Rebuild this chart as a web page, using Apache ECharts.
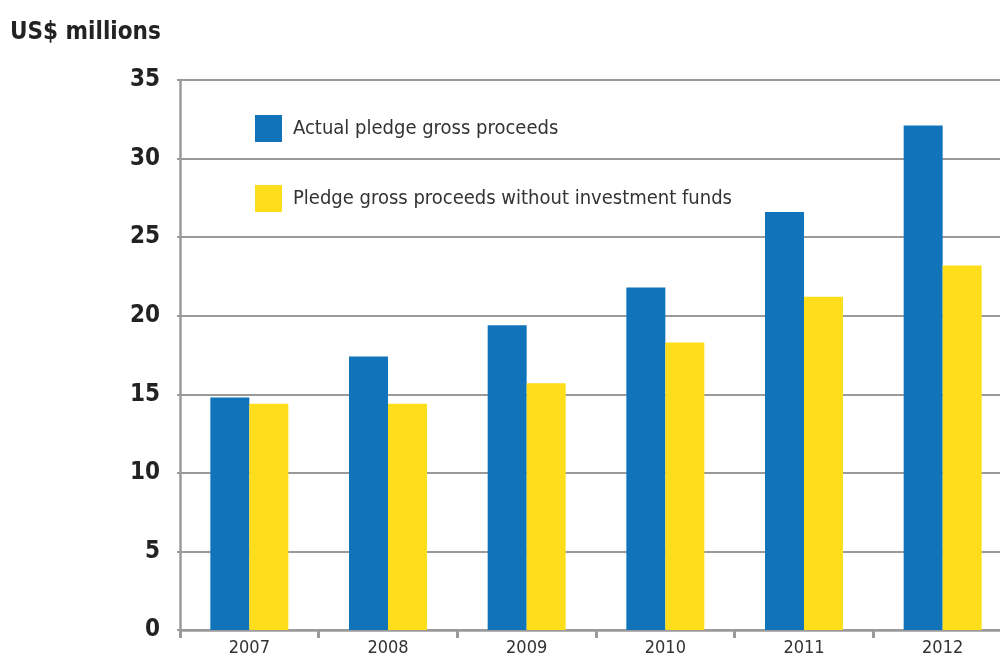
<!DOCTYPE html>
<html>
<head>
<meta charset="utf-8">
<script src="https://cdn.jsdelivr.net/npm/echarts@6/dist/echarts.min.js"></script>
<style>
  html, body { margin: 0; padding: 0; background: #fff; overflow: hidden; }
  /* plot runs slightly past the right edge of the page */
  #chart { width: 1012px; height: 657px; }
</style>
</head>
<body>
<div id="chart"></div>
<script>
// Pledge gross proceeds, US$ millions
const years = ['2007', '2008', '2009', '2010', '2011', '2012'];
const actualProceeds = [14.8, 17.4, 19.4, 21.8, 26.6, 32.1];
const withoutFunds = [14.4, 14.4, 15.7, 18.3, 21.2, 23.2];
const yTicks = { min: 0, max: 35, interval: 5 };

const FONT = "'Liberation Sans Narrow', 'Arial Narrow', 'DejaVu Sans Condensed', sans-serif";
const GRID_GRAY = '#9a9a9a';

const chart = echarts.init(document.getElementById('chart'));
chart.setOption({
  animation: false,
  backgroundColor: '#fff',
  title: {
    text: 'US$ millions',
    left: 5,
    top: 16,
    textStyle: { fontFamily: FONT, fontSize: 24, fontWeight: 'bold', color: '#222' }
  },
  legend: {
    orient: 'vertical',
    left: 250,
    top: 110,
    itemWidth: 27,
    itemHeight: 27,
    itemGap: 43,
    icon: 'rect',
    textStyle: { fontFamily: FONT, fontSize: 20, color: '#333', padding: [0, 0, 0, 6] },
    data: ['Actual pledge gross proceeds', 'Pledge gross proceeds without investment funds']
  },
  grid: { left: 180, top: 80, bottom: 26, right: 0 },
  xAxis: {
    type: 'category',
    data: years,
    boundaryGap: true,
    axisLine: { lineStyle: { color: GRID_GRAY, width: 2.5 } },
    axisTick: { show: true, length: 8, lineStyle: { color: GRID_GRAY, width: 3 } },
    axisLabel: { margin: 9, fontFamily: FONT, fontSize: 18, color: '#333' }
  },
  yAxis: {
    type: 'value',
    min: yTicks.min,
    max: yTicks.max,
    interval: yTicks.interval,
    axisLine: { show: true, lineStyle: { color: GRID_GRAY, width: 2.5 } },
    axisTick: { show: true, length: 3, lineStyle: { color: GRID_GRAY, width: 2 } },
    splitLine: { lineStyle: { color: GRID_GRAY, width: 2 } },
    axisLabel: { margin: 20, fontFamily: FONT, fontSize: 24, fontWeight: 'bold', color: '#222' }
  },
  series: [
    {
      name: 'Actual pledge gross proceeds',
      type: 'bar',
      data: actualProceeds,
      barWidth: 39,
      barGap: '0%',
      itemStyle: { color: '#1174bb' }
    },
    {
      name: 'Pledge gross proceeds without investment funds',
      type: 'bar',
      data: withoutFunds,
      barWidth: 39,
      barGap: '0%',
      itemStyle: { color: '#fedd1a' }
    }
  ]
});
</script>
</body>
</html>
